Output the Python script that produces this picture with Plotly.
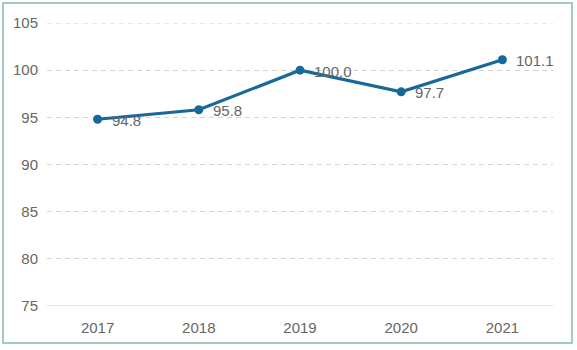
import plotly.graph_objects as go

years = ["2017", "2018", "2019", "2020", "2021"]
values = [94.8, 95.8, 100.0, 97.7, 101.1]
labels = ["94.8", "95.8", "100.0", "97.7", "101.1"]
y_ticks = [75, 80, 85, 90, 95, 100, 105]

L, R, T, B = 47, 24, 23, 44
W, H = 577, 350
pw, ph = W - L - R, H - T - B
FONT = "Liberation Sans, Arial"

fig = go.Figure()
fig.add_trace(go.Scatter(
    x=years, y=values, mode="lines+markers",
    line=dict(color="#17699b", width=3.2),
    marker=dict(size=9, color="#17699b"),
    hoverinfo="skip", showlegend=False,
))
for i, (y, t) in enumerate(zip(values, labels)):
    fig.add_annotation(x=i, y=y, xref="x", yref="y", text=t, showarrow=False,
                       xanchor="left", yanchor="middle", xshift=12, yshift=-1,
                       font=dict(family=FONT, size=15, color="#666666"))

def px_x(p):
    return (p - L) / pw

def px_y(p):
    return (H - B - p) / ph

fig.add_shape(type="rect", xref="paper", yref="paper",
              x0=px_x(3), x1=px_x(572), y0=px_y(343), y1=px_y(3),
              line=dict(color="#86b8b3", width=1.5), layer="below")

fig.update_layout(
    width=W, height=H, margin=dict(l=L, r=R, t=T, b=B),
    paper_bgcolor="white", plot_bgcolor="white",
    font=dict(family=FONT, size=15, color="#666666"),
    xaxis=dict(type="category", showgrid=False, showline=False, zeroline=False,
               ticks="outside", ticklen=8, tickcolor="rgba(0,0,0,0)",
               tickfont=dict(size=15, color="#666666"), range=[-0.5, 4.5]),
    yaxis=dict(range=[75, 105], tickvals=y_ticks, showgrid=True,
               gridcolor="#d4d4d4", griddash="5px,4px", gridwidth=1,
               zeroline=False, showline=False, ticks="outside", ticklen=5,
               tickcolor="rgba(0,0,0,0)",
               tickfont=dict(size=15, color="#666666")),
)
fig.add_shape(type="line", xref="paper", yref="y", x0=0, x1=1,
              y0=y_ticks[-1], y1=y_ticks[-1], layer="below",
              line=dict(color="#d4d4d4", width=1, dash="5px,4px"))
fig.add_shape(type="line", xref="paper", yref="y", x0=0, x1=1,
              y0=y_ticks[0], y1=y_ticks[0],
              line=dict(color="#cccccc", width=1.2))
fig.write_html("out.html")
